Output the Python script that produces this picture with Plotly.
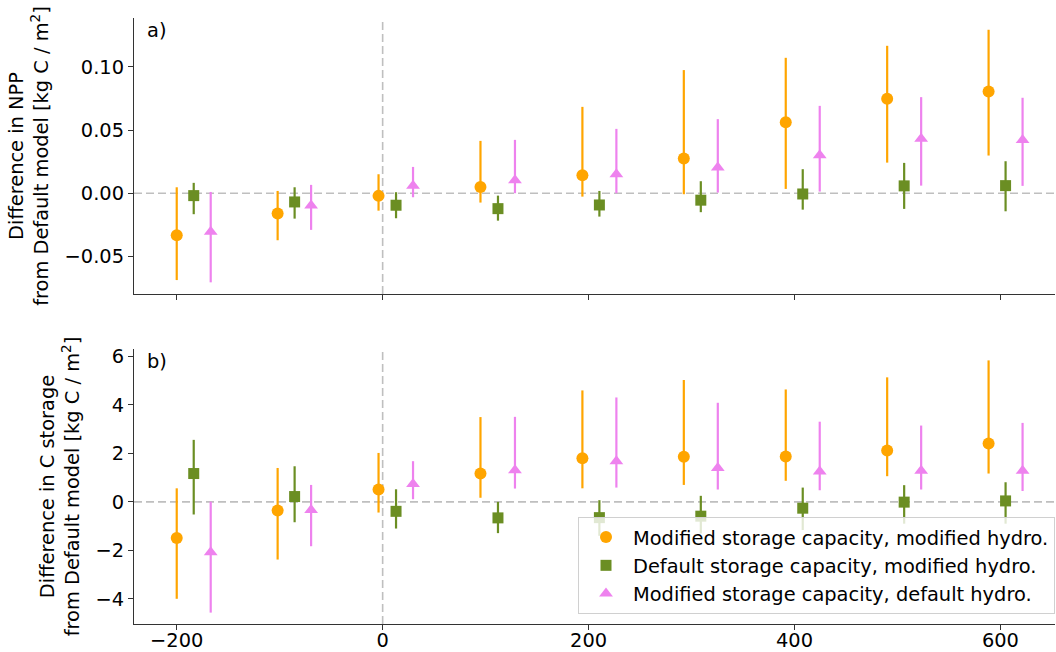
import plotly.graph_objects as go

# ---------------- data ----------------
series_names = [
    "Modified storage capacity, modified hydro.",
    "Default storage capacity, modified hydro.",
    "Modified storage capacity, default hydro.",
]
colors = ["#FFA500", "#6B8E23", "#EE82EE"]
symbols = ["circle", "square", "triangle-up"]
sizes = [12, 11, 12]

x_mm = [-200, -102, -4, 95, 194, 292.5, 391.5, 490, 588.5]
x_dm = [-183.5, -85.5, 13, 112, 210.5, 309, 408, 506.5, 605]
x_md = [-167, -69.5, 29.5, 128.5, 227, 325.5, 424.5, 523, 621.5]

# NPP difference (panel a)
npp_mm = [-0.0333, -0.0161, -0.0021, 0.0050, 0.0143, 0.0274, 0.0562, 0.0747, 0.0804]
npp_mm_hi = [0.0047, 0.0018, 0.0150, 0.0414, 0.0683, 0.0974, 0.1071, 0.1166, 0.1293]
npp_mm_lo = [-0.0687, -0.0372, -0.0138, -0.0074, -0.0027, -0.0008, 0.0034, 0.0242, 0.0298]

npp_dm = [-0.0019, -0.0069, -0.0095, -0.0122, -0.0093, -0.0055, -0.0006, 0.0058, 0.0060]
npp_dm_hi = [0.0082, 0.0047, 0.0008, -0.0019, 0.0018, 0.0095, 0.0190, 0.0240, 0.0253]
npp_dm_lo = [-0.0166, -0.0201, -0.0198, -0.0217, -0.0185, -0.0150, -0.0130, -0.0124, -0.0143]

npp_md = [-0.0304, -0.0098, 0.0060, 0.0103, 0.0150, 0.0203, 0.0301, 0.0430, 0.0420]
npp_md_hi = [0.0010, 0.0066, 0.0208, 0.0422, 0.0509, 0.0586, 0.0691, 0.0760, 0.0755]
npp_md_lo = [-0.0705, -0.0290, -0.0032, 0.0000, 0.0000, 0.0005, 0.0013, 0.0060, 0.0058]

# C storage difference (panel b)
cs_mm = [-1.49, -0.36, 0.51, 1.17, 1.80, 1.86, 1.87, 2.12, 2.41]
cs_mm_hi = [0.56, 1.40, 2.02, 3.50, 4.60, 5.03, 4.64, 5.14, 5.84]
cs_mm_lo = [-4.00, -2.38, -0.44, 0.17, 0.56, 0.70, 0.87, 1.06, 1.17]

cs_dm = [1.17, 0.22, -0.39, -0.66, -0.65, -0.59, -0.26, -0.01, 0.04]
cs_dm_hi = [2.56, 1.47, 0.52, 0.00, 0.07, 0.25, 0.59, 0.69, 0.81]
cs_dm_lo = [-0.52, -0.84, -1.10, -1.29, -1.40, -1.30, -1.16, -0.90, -0.90]

cs_md = [-2.08, -0.34, 0.74, 1.31, 1.68, 1.40, 1.25, 1.28, 1.28]
cs_md_hi = [0.01, 0.70, 1.68, 3.51, 4.31, 4.09, 3.31, 3.15, 3.26]
cs_md_lo = [-4.57, -1.83, 0.11, 0.55, 0.59, 0.51, 0.48, 0.51, 0.45]

x_ticks = [-200, 0, 200, 400, 600]
npp_ticks = [-0.05, 0.00, 0.05, 0.10]
cs_ticks = [-4, -2, 0, 2, 4, 6]

# ---------------- figure ----------------
fig = go.Figure()

xs = [x_mm, x_dm, x_md]
panels = [
    ("x", "y", [(npp_mm, npp_mm_lo, npp_mm_hi), (npp_dm, npp_dm_lo, npp_dm_hi), (npp_md, npp_md_lo, npp_md_hi)], False),
    ("x2", "y2", [(cs_mm, cs_mm_lo, cs_mm_hi), (cs_dm, cs_dm_lo, cs_dm_hi), (cs_md, cs_md_lo, cs_md_hi)], True),
]
for xa, ya, sets, show in panels:
    for i, (c, lo, hi) in enumerate(sets):
        fig.add_trace(go.Scatter(
            x=xs[i], y=c, xaxis=xa, yaxis=ya, mode="markers",
            name=series_names[i], showlegend=show, legendgroup=f"g{i}",
            marker=dict(color=colors[i], symbol=symbols[i], size=sizes[i], line=dict(width=0)),
            error_y=dict(type="data", symmetric=False,
                         array=[h - v for h, v in zip(hi, c)],
                         arrayminus=[v - l for v, l in zip(c, lo)],
                         color=colors[i], thickness=2.2, width=0),
        ))

FS = 19.4
font = dict(family="DejaVu Sans", size=FS, color="#000000")
axis_common = dict(showline=True, linecolor="#333333", linewidth=1.2, ticks="outside",
                   ticklen=5, tickcolor="#333333", showgrid=False, zeroline=False,
                   tickfont=font, automargin=False)

xr = [-241.5, 653]
fig.update_layout(
    width=1056, height=652,
    paper_bgcolor="white", plot_bgcolor="white",
    margin=dict(l=134, r=1, t=18, b=28, autoexpand=False),
    font=font,
    xaxis=dict(domain=[0, 1], anchor="y", range=xr, tickvals=x_ticks, showticklabels=False, **axis_common),
    xaxis2=dict(domain=[0, 1], anchor="y2", range=xr, tickvals=x_ticks, ticklabelstandoff=-6, **axis_common),
    yaxis=dict(domain=[0.5446, 1], anchor="x", range=[-0.0797, 0.1386], tickvals=npp_ticks,
               tickformat=".2f",
               title=dict(text="Difference in NPP<br>from Default model [kg C / m<sup>2</sup>]",
                          font=font, standoff=10), **axis_common),
    yaxis2=dict(domain=[0, 0.4538], anchor="x2", range=[-5.04, 6.31], tickvals=cs_ticks,
                title=dict(text="Difference in C storage<br>from Default model [kg C / m<sup>2</sup>]",
                           font=font, standoff=10), **axis_common),
    legend=dict(x=1, xanchor="right", y=0.0165, yanchor="bottom",
                bgcolor="rgba(255,255,255,0.8)", bordercolor="#d0d0d0", borderwidth=1,
                font=font, itemwidth=44, tracegroupgap=0),
    showlegend=True,
)

dash_line = dict(color="#bfbfbf", width=1.6, dash="8px,4px")
for xa, ya in [("x", "y"), ("x2", "y2")]:
    fig.add_shape(type="line", xref=f"{xa} domain", yref=ya, x0=0, x1=1, y0=0, y1=0,
                  line=dash_line, layer="below")
    fig.add_shape(type="line", xref=xa, yref=f"{ya} domain", x0=0, x1=0, y0=0, y1=1,
                  line=dash_line, layer="below")

fig.add_annotation(text="a)", xref="x domain", yref="y domain", x=0.012, y=1.005,
                   xanchor="left", yanchor="top", showarrow=False, font=font)
fig.add_annotation(text="b)", xref="x2 domain", yref="y2 domain", x=0.012, y=1.005,
                   xanchor="left", yanchor="top", showarrow=False, font=font)

fig.write_html("out.html", config={"displayModeBar": False},
               post_script="document.body.style.margin='0';document.body.style.overflow='hidden';")
